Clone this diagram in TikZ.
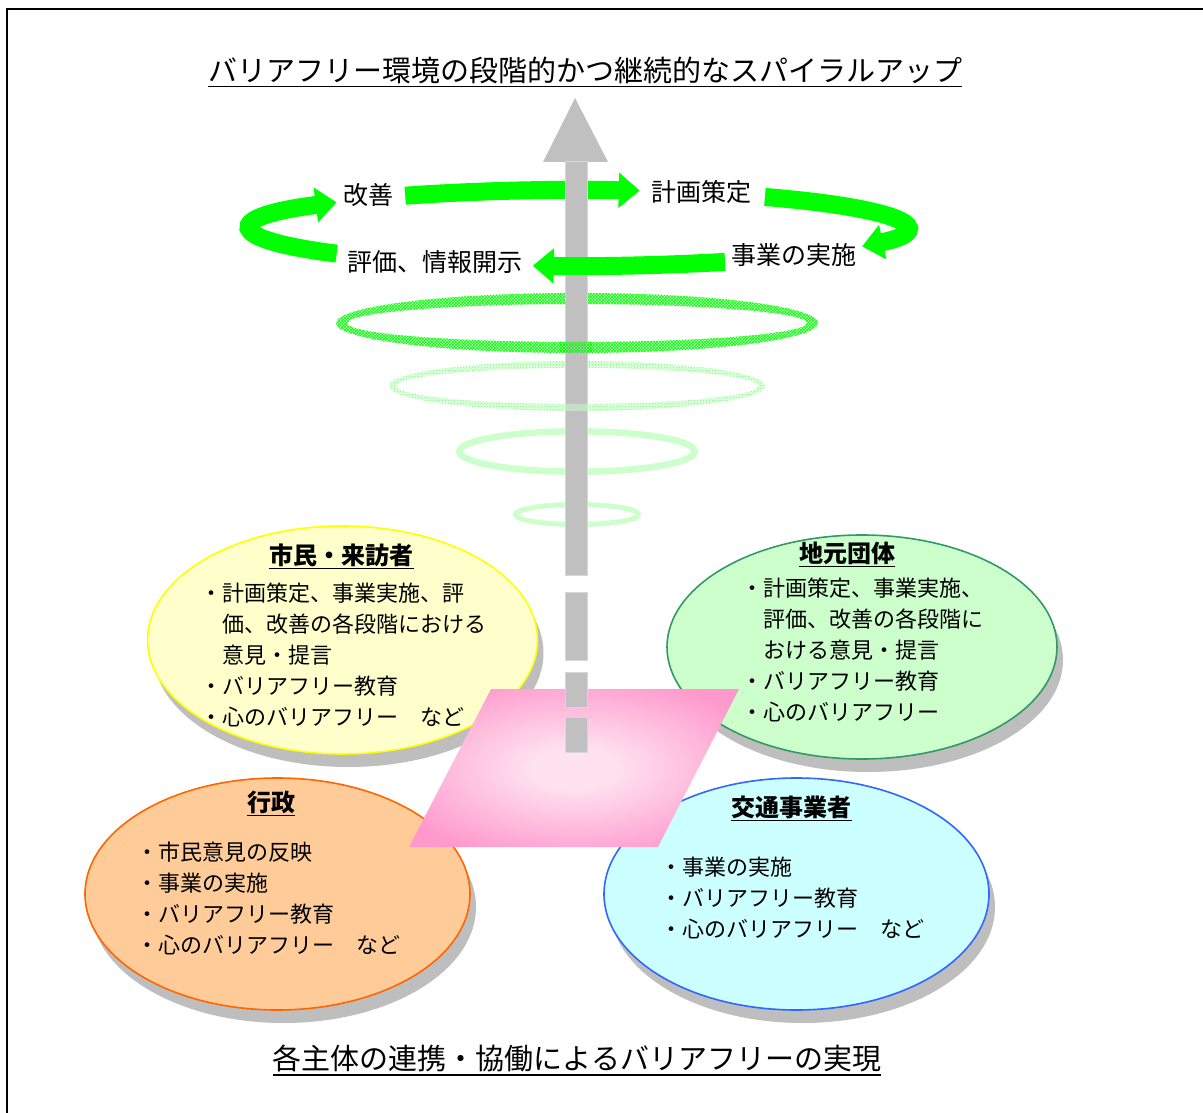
\documentclass[tikz,border=0pt]{standalone}
\usepackage{fontspec}
\newfontfamily\jp{Noto Sans CJK JP}
\usetikzlibrary{shapes.geometric,arrows.meta,patterns,shadows}
\definecolor{ggreen}{RGB}{0,255,0}
\definecolor{ringlight}{RGB}{204,255,204}
\definecolor{shaftgray}{RGB}{192,192,192}
\definecolor{shaftedge}{RGB}{215,215,215}
\definecolor{shadowgray}{RGB}{190,190,190}
\definecolor{yfill}{RGB}{255,255,204}
\definecolor{yborder}{RGB}{255,255,0}
\definecolor{gfill}{RGB}{204,255,204}
\definecolor{gborder}{RGB}{51,153,102}
\definecolor{ofill}{RGB}{255,204,153}
\definecolor{oborder}{RGB}{255,102,0}
\definecolor{cfill}{RGB}{204,255,255}
\definecolor{cborder}{RGB}{51,102,255}
\definecolor{pinkdark}{RGB}{255,153,204}
\definecolor{pinklight}{RGB}{255,226,240}
\pgfdeclareradialshading{pinkglow}{\pgfpoint{0bp}{0bp}}{%
  color(0bp)=(pinklight); color(6bp)=(pinklight);
  color(18bp)=(pinklight!50!pinkdark); color(30bp)=(pinkdark); color(80bp)=(pinkdark)}
\begin{document}
\begin{tikzpicture}[x=1pt,y=1pt,
  titletext/.style={font={\jp\fontsize{29}{34}\selectfont}, inner sep=0},
  cyclelabel/.style={font={\jp\fontsize{25}{30}\selectfont}, inner sep=0},
  headtext/.style={font={\jp\bfseries\fontsize{24}{28}\selectfont}, inner sep=0},
  bodytext/.style={font={\jp\fontsize{22}{31}\selectfont}, inner sep=0, anchor=base west},
  uline/.style={line width=1.6},
  garrow/.style={line width=18, draw=ggreen, -{Triangle[length=21pt,width=34pt]}},
  shaftpart/.style={fill=shaftgray, draw=shaftedge, line width=0.8},
  bubble/.style={ellipse, draw, line width=1.6, inner sep=0,
    general shadow={shadow xshift=6pt, shadow yshift=-13pt, fill=shadowgray}}
]
\useasboundingbox (0,0) rectangle (1203,-1113);
\fill[white] (0,0) rectangle (1203,-1113);

% titles
\node[titletext] (title) at (585,-70) {バリアフリー環境の段階的かつ継続的なスパイラルアップ};
\draw[uline] ([yshift=-3]title.south west) -- ([yshift=-3]title.south east);
\node[titletext] (bottom) at (577,-1058) {各主体の連携・協働によるバリアフリーの実現};
\draw[uline] ([yshift=-3]bottom.south west) -- ([yshift=-3]bottom.south east);

% rings
\fill[green!25, even odd rule] (577,-323) ellipse[x radius=241, y radius=30] (577,-323) ellipse[x radius=230, y radius=19];
\fill[pattern=crosshatch, pattern color=ggreen, even odd rule] (577,-323) ellipse[x radius=241, y radius=30] (577,-323) ellipse[x radius=230, y radius=19];
\fill[green!12, even odd rule] (577,-386) ellipse[x radius=188, y radius=25] (577,-386) ellipse[x radius=181, y radius=18];
\fill[pattern=crosshatch dots, pattern color=green!55, even odd rule] (577,-386) ellipse[x radius=188, y radius=25] (577,-386) ellipse[x radius=181, y radius=18];
\draw[line width=6.5, ringlight] (577,-451.5) ellipse[x radius=117.7, y radius=20.2];
\draw[line width=5, ringlight] (577,-514.5) ellipse[x radius=61.5, y radius=10];

% cycle labels
\node[cyclelabel] (kaizen) at (368,-195) {改善};
\node[cyclelabel] (keikaku) at (701,-192) {計画策定};
\node[cyclelabel] (jigyou) at (794,-255) {事業の実施};
\node[cyclelabel] (hyouka) at (435,-262) {評価、情報開示};
\coordinate (C) at (577,-228);

% back green arrow (behind the shaft)
\draw[garrow] ([shift={(121.8:326 and 38)}]C) arc[start angle=121.8, end angle=78.9, x radius=326, y radius=38];

% gray upward arrow
\coordinate (tip) at (575,-98);
\fill[shaftgray] (tip) -- (608,-162) -- (543,-162) -- cycle;
\path[shaftpart] (565,-161) rectangle (587,-575);

% front parts of the first two rings over the shaft
\begin{scope}
\clip (560,-323) rectangle (592,-360);
\fill[pattern=crosshatch, pattern color=ggreen, even odd rule] (577,-323) ellipse[x radius=241, y radius=30] (577,-323) ellipse[x radius=230, y radius=19];
\end{scope}
\begin{scope}
\clip (560,-386) rectangle (592,-415);
\fill[green!20, opacity=0.5, even odd rule] (577,-386) ellipse[x radius=188, y radius=25] (577,-386) ellipse[x radius=181, y radius=18];
\end{scope}

% other green arrows
\draw[garrow] ([shift={(54.8:326 and 38)}]C) arc[start angle=54.8, end angle=-29, x radius=326, y radius=38];
\draw[garrow] ([shift={(-63:326 and 38)}]C) arc[start angle=-63, end angle=-97.8, x radius=326, y radius=38];
\draw[garrow] ([shift={(-137.5:326 and 38)}]C) arc[start angle=-137.5, end angle=-222.5, x radius=326, y radius=38];

% stakeholder bubbles
\node[bubble, fill=yfill, draw=yborder, minimum width=390, minimum height=228] (shimin) at (342.5,-640) {};
\node[bubble, fill=gfill, draw=gborder, minimum width=390, minimum height=224] (jimoto) at (862,-647) {};
\node[bubble, fill=ofill, draw=oborder, minimum width=385, minimum height=232] (gyousei) at (277.5,-894) {};
\node[bubble, fill=cfill, draw=cborder, minimum width=385, minimum height=232] (koutsu) at (796.5,-894) {};

% headings
\node[headtext] (shiminh) at (341.5,-555) {市民・来訪者};
\draw[uline] ([yshift=-2]shiminh.south west) -- ([yshift=-2]shiminh.south east);
\node[headtext] (jimotoh) at (847,-553) {地元団体};
\draw[uline] ([yshift=-2]jimotoh.south west) -- ([yshift=-2]jimotoh.south east);
\node[headtext] (gyouseih) at (271,-802) {行政};
\draw[uline] ([yshift=-2]gyouseih.south west) -- ([yshift=-2]gyouseih.south east);
\node[headtext] (koutsuh) at (791.5,-807) {交通事業者};
\draw[uline] ([yshift=-2]koutsuh.south west) -- ([yshift=-2]koutsuh.south east);

% body texts
\node[bodytext] (shiminb) at (200,-601.4) {\begin{tabular}[t]{@{}l@{}}・計画策定、事業実施、評\\\hphantom{・}価、改善の各段階における\\\hphantom{・}意見・提言\\・バリアフリー教育\\・心のバリアフリー　など\end{tabular}};
\node[bodytext] (jimotob) at (741,-596.4) {\begin{tabular}[t]{@{}l@{}}・計画策定、事業実施、\\\hphantom{・}評価、改善の各段階に\\\hphantom{・}おける意見・提言\\・バリアフリー教育\\・心のバリアフリー\end{tabular}};
\node[bodytext] (gyouseib) at (136,-860.4) {\begin{tabular}[t]{@{}l@{}}・市民意見の反映\\・事業の実施\\・バリアフリー教育\\・心のバリアフリー　など\end{tabular}};
\node[bodytext] (koutsub) at (660,-875.4) {\begin{tabular}[t]{@{}l@{}}・事業の実施\\・バリアフリー教育\\・心のバリアフリー　など\end{tabular}};

% central pink platform
\shade[shading=pinkglow] (491,-689) -- (739,-689) -- (658,-847) -- (409,-847) -- cycle;

% dashed lower part of the shaft
\path[shaftpart] (565,-592) rectangle (587,-660);
\path[shaftpart] (565,-672) rectangle (587,-707);
\path[shaftpart] (565,-717) rectangle (587,-752);

% frame
\draw[line width=2.5] (7,-1113) -- (7,-9) -- (1203,-9);
\end{tikzpicture}
\end{document}
